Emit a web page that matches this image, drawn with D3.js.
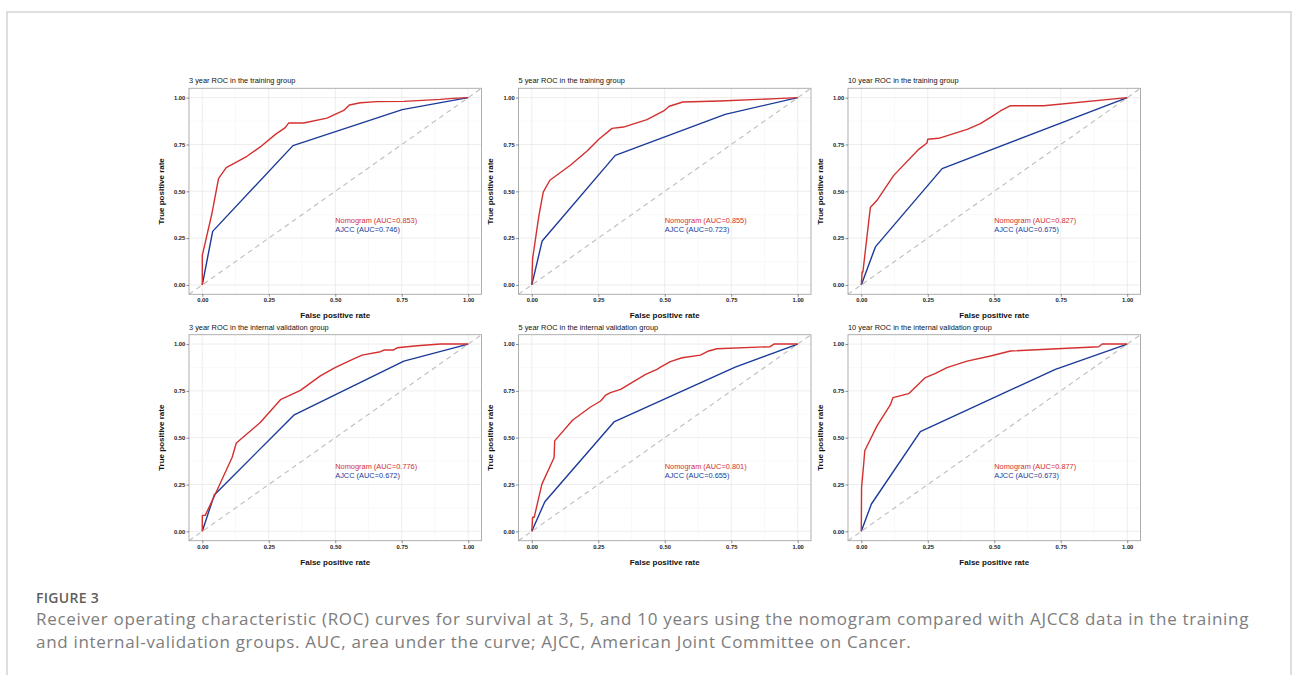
<!DOCTYPE html>
<html>
<head>
<meta charset="utf-8">
<script src="https://cdn.jsdelivr.net/npm/d3@7"></script>
<style>
  body { margin: 0; background: #fff; }
  svg { display: block; }
</style>
</head>
<body>
<svg id="figure" width="1292" height="675"></svg>
<script>
// panel titles, row by row
var panelTitles = [
  "3 year ROC in the training group",
  "5 year ROC in the training group",
  "10 year ROC in the training group",
  "3 year ROC in the internal validation group",
  "5 year ROC in the internal validation group",
  "10 year ROC in the internal validation group"
];
var nomogramAuc = ["0.853", "0.855", "0.827", "0.776", "0.801", "0.877"];
var ajccAuc = ["0.746", "0.723", "0.675", "0.672", "0.655", "0.673"];

// nomogram ROC curves [fpr, tpr]
var nomogram3yTrain = [[0,0],[0,0.158],[0.036,0.38],[0.061,0.568],[0.09,0.626],[0.168,0.687],[0.218,0.737],[0.275,0.804],[0.312,0.84],[0.325,0.865],[0.381,0.865],[0.469,0.891],[0.532,0.932],[0.553,0.961],[0.595,0.973],[0.657,0.979],[0.758,0.98],[0.896,0.991],[0.94,0.996],[1,1]];
var nomogram5yTrain = [[0,0],[0.003,0.14],[0.026,0.363],[0.043,0.496],[0.068,0.559],[0.145,0.639],[0.208,0.715],[0.252,0.778],[0.302,0.836],[0.345,0.843],[0.433,0.883],[0.496,0.929],[0.517,0.954],[0.568,0.977],[0.708,0.982],[0.921,0.995],[1,1]];
var nomogram10yTrain = [[0,0],[0.003,0.069],[0.006,0.069],[0.034,0.413],[0.059,0.452],[0.122,0.585],[0.216,0.724],[0.247,0.758],[0.25,0.778],[0.291,0.783],[0.398,0.831],[0.448,0.861],[0.492,0.9],[0.523,0.929],[0.561,0.957],[0.686,0.957],[1,1]];
var nomogram3yValid = [[0,0],[0,0.085],[0.011,0.085],[0.049,0.199],[0.112,0.394],[0.128,0.472],[0.218,0.581],[0.294,0.703],[0.369,0.753],[0.444,0.83],[0.494,0.87],[0.507,0.879],[0.557,0.913],[0.601,0.941],[0.67,0.959],[0.683,0.968],[0.718,0.968],[0.733,0.98],[0.808,0.991],[0.896,1],[1,1]];
var nomogram5yValid = [[0,0],[0.003,0.075],[0.009,0.075],[0.038,0.252],[0.084,0.394],[0.086,0.483],[0.153,0.593],[0.221,0.664],[0.259,0.696],[0.278,0.728],[0.296,0.741],[0.334,0.758],[0.428,0.838],[0.471,0.865],[0.484,0.877],[0.521,0.906],[0.565,0.927],[0.634,0.941],[0.665,0.963],[0.696,0.975],[0.896,0.986],[0.911,1],[1,1]];
var nomogram10yValid = [[0,0],[0.001,0.234],[0.009,0.359],[0.013,0.43],[0.059,0.563],[0.109,0.675],[0.119,0.714],[0.178,0.735],[0.241,0.821],[0.279,0.844],[0.322,0.874],[0.398,0.909],[0.486,0.936],[0.561,0.963],[0.893,0.986],[0.906,1],[1,1]];

// AJCC ROC curves [fpr, tpr]
var ajcc3yTrain = [[0,0],[0.039,0.286],[0.341,0.744],[0.752,0.936],[1,1]];
var ajcc5yTrain = [[0,0],[0.039,0.235],[0.314,0.692],[0.727,0.911],[1,1]];
var ajcc10yTrain = [[0,0],[0.053,0.203],[0.304,0.621],[1,1]];
var ajcc3yValid = [[0,0],[0.045,0.194],[0.344,0.62],[0.758,0.909],[1,1]];
var ajcc5yValid = [[0,0],[0.049,0.158],[0.309,0.584],[0.765,0.877],[1,1]];
var ajcc10yValid = [[0,0],[0.038,0.146],[0.222,0.533],[0.73,0.865],[1,1]];

var nomogramCurves = [nomogram3yTrain, nomogram5yTrain, nomogram10yTrain, nomogram3yValid, nomogram5yValid, nomogram10yValid];
var ajccCurves = [ajcc3yTrain, ajcc5yTrain, ajcc10yTrain, ajcc3yValid, ajcc5yValid, ajcc10yValid];

var majorTicks = [0, 0.25, 0.5, 0.75, 1];
var minorTicks = [0.125, 0.375, 0.625, 0.875];

var captionLines = [
  "Receiver operating characteristic (ROC) curves for survival at 3, 5, and 10 years using the nomogram compared with AJCC8 data in the training",
  "and internal-validation groups. AUC, area under the curve; AJCC, American Joint Committee on Cancer."
];

var red = "#d3302f", blue = "#1b3a99";
var plotFont = "Liberation Sans, Arial, sans-serif";

var svg = d3.select("#figure");
svg.append("rect").attr("width", 1292).attr("height", 675).attr("fill", "#fff");

// card frame
svg.append("rect")
  .attr("x", 7).attr("y", 12).attr("width", 1284).attr("height", 700)
  .attr("fill", "none").attr("stroke", "#d4d4d4").attr("stroke-width", 1.5);

var panelW = 292.5, panelH = 206;

panelTitles.forEach(function (title, i) {
  var col = i % 3, row = Math.floor(i / 3);
  var left = 189 + col * 329.5;
  var top = 88.3 + row * 246.4;

  var x = d3.scaleLinear().domain([-0.05, 1.05]).range([left, left + panelW]);
  var y = d3.scaleLinear().domain([-0.05, 1.05]).range([top + panelH, top]);

  var g = svg.append("g");

  // grid
  minorTicks.forEach(function (t) {
    g.append("line").attr("x1", x(t)).attr("x2", x(t)).attr("y1", top).attr("y2", top + panelH)
      .attr("stroke", "#f3f3f3").attr("stroke-width", 0.5);
    g.append("line").attr("x1", left).attr("x2", left + panelW).attr("y1", y(t)).attr("y2", y(t))
      .attr("stroke", "#f3f3f3").attr("stroke-width", 0.5);
  });
  majorTicks.forEach(function (t) {
    g.append("line").attr("x1", x(t)).attr("x2", x(t)).attr("y1", top).attr("y2", top + panelH)
      .attr("stroke", "#e8e8e8").attr("stroke-width", 0.8);
    g.append("line").attr("x1", left).attr("x2", left + panelW).attr("y1", y(t)).attr("y2", y(t))
      .attr("stroke", "#e8e8e8").attr("stroke-width", 0.8);
  });

  // reference diagonal
  g.append("line")
    .attr("x1", x(-0.05)).attr("y1", y(-0.05)).attr("x2", x(1.05)).attr("y2", y(1.05))
    .attr("stroke", "#bdbdbd").attr("stroke-width", 1.1).attr("stroke-dasharray", "5,4");

  var line = d3.line().x(function (d) { return x(d[0]); }).y(function (d) { return y(d[1]); });

  g.append("path").datum(ajccCurves[i]).attr("d", line)
    .attr("fill", "none").attr("stroke", blue).attr("stroke-width", 1.4).attr("stroke-linejoin", "round");
  g.append("path").datum(nomogramCurves[i]).attr("d", line)
    .attr("fill", "none").attr("stroke", red).attr("stroke-width", 1.4).attr("stroke-linejoin", "round");

  // panel border
  g.append("rect").attr("x", left).attr("y", top).attr("width", panelW).attr("height", panelH)
    .attr("fill", "none").attr("stroke", "#a6a6a6").attr("stroke-width", 0.9);

  // axes
  var xAxis = g.append("g").attr("transform", "translate(0," + (top + panelH) + ")")
    .call(d3.axisBottom(x).tickValues(majorTicks).tickSize(2.5).tickPadding(1.5).tickFormat(d3.format(".2f")));
  var yAxis = g.append("g").attr("transform", "translate(" + left + ",0)")
    .call(d3.axisLeft(y).tickValues(majorTicks).tickSize(2.5).tickPadding(1.2).tickFormat(d3.format(".2f")));
  [xAxis, yAxis].forEach(function (a) {
    a.select(".domain").remove();
    a.selectAll(".tick line").attr("stroke", "#444").attr("stroke-width", 0.6);
    a.selectAll(".tick text").attr("fill", "#222").style("font-family", plotFont)
      .style("font-size", "5.8px").style("font-weight", "bold");
  });

  // titles
  g.append("text").attr("x", left).attr("y", top - 5)
    .style("font-family", plotFont).style("font-size", "7.4px").attr("fill", "#111")
    .text(title);
  g.append("text").attr("x", left + panelW / 2).attr("y", top + panelH + 24)
    .attr("text-anchor", "middle")
    .style("font-family", plotFont).style("font-size", "8px").style("font-weight", "bold").attr("fill", "#111")
    .text("False positive rate");
  g.append("text")
    .attr("transform", "translate(" + (left - 25.5) + "," + (top + panelH / 2) + ") rotate(-90)")
    .attr("text-anchor", "middle")
    .style("font-family", plotFont).style("font-size", "8px").style("font-weight", "bold").attr("fill", "#111")
    .text("True positive rate");

  // AUC labels
  g.append("text").attr("x", x(0.5)).attr("y", y(0.347)).attr("dy", "0.35em")
    .style("font-family", plotFont).style("font-size", "7.4px").attr("fill", red)
    .text("Nomogram (AUC=" + nomogramAuc[i] + ")");
  g.append("text").attr("x", x(0.5)).attr("y", y(0.296)).attr("dy", "0.35em")
    .style("font-family", plotFont).style("font-size", "7.4px").attr("fill", blue)
    .text("AJCC (AUC=" + ajccAuc[i] + ")");
});

// caption
svg.append("text").attr("x", 36).attr("y", 602.5)
  .style("font-family", "Open Sans, sans-serif").style("font-size", "14px").style("font-weight", "600")
  .style("letter-spacing", "0.3px")
  .attr("fill", "#5f5f5f").text("FIGURE 3");

captionLines.forEach(function (t, k) {
  svg.append("text").attr("x", 36).attr("y", 625 + k * 22.5)
    .style("font-family", "Open Sans, sans-serif").style("font-size", "17px")
    .style("letter-spacing", "0.68px")
    .attr("fill", "#7d7d7d").text(t);
});
</script>
</body>
</html>
